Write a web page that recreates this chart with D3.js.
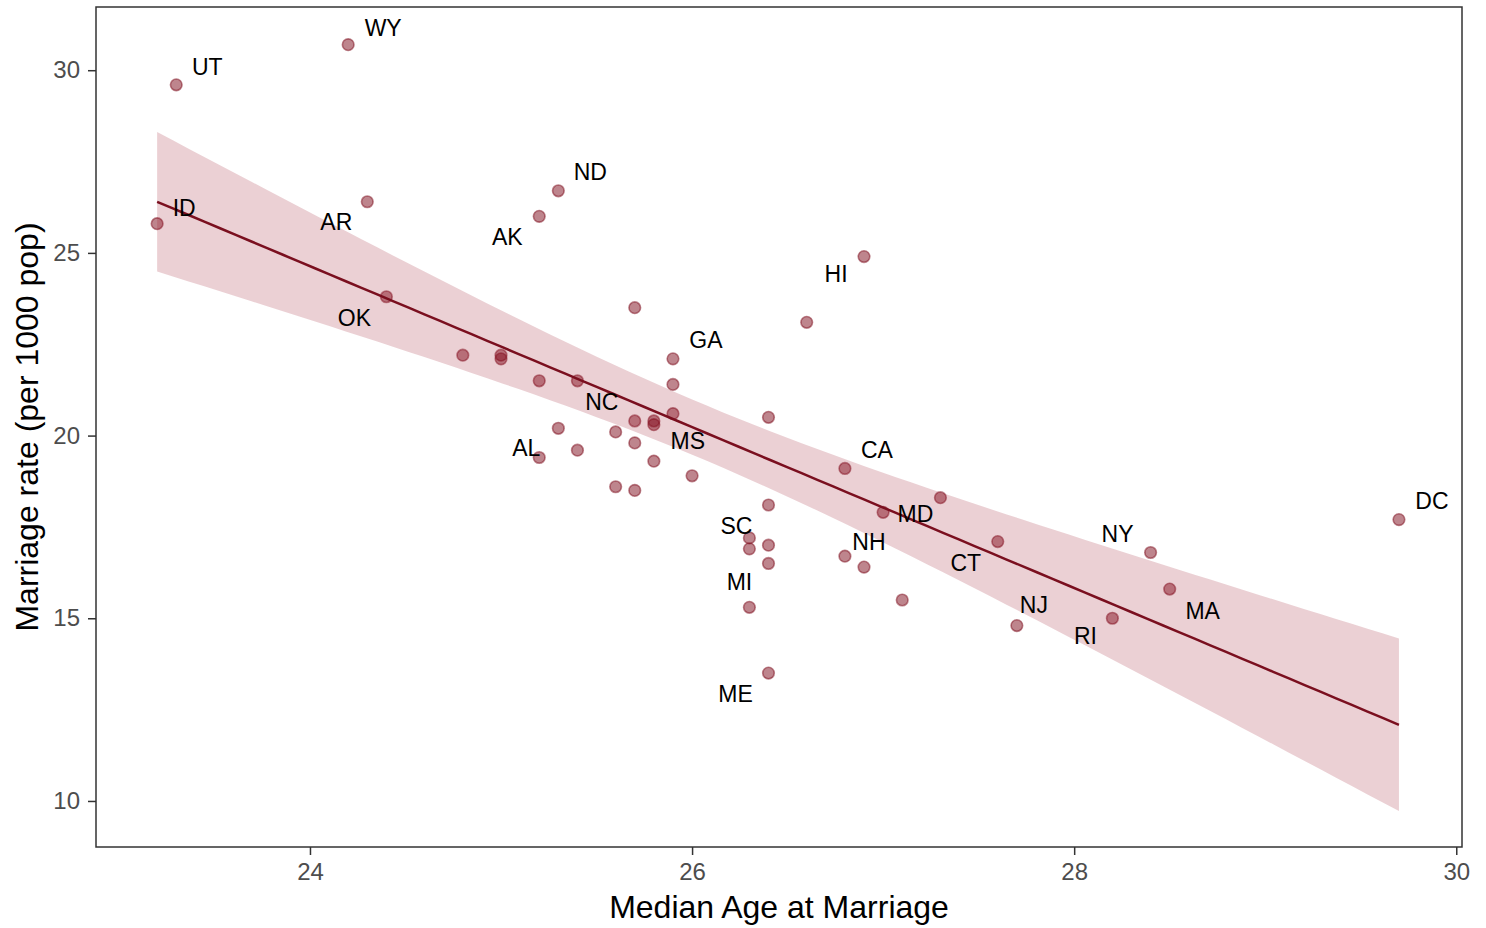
<!DOCTYPE html>
<html>
<head>
<meta charset="utf-8">
<script src="https://cdn.jsdelivr.net/npm/d3@7"></script>
<style>
  body { margin: 0; background: #fff; }
  text { font-family: "Liberation Sans", Arial, sans-serif; }
</style>
</head>
<body>
<div id="chart"></div>
<script>
// state codes, median age at marriage, marriage rate (per 1000)
const states = ['AL','AK','AZ','AR','CA','CO','CT','DE','DC','FL','GA','HI','ID','IL','IN','IA','KS','KY','LA','ME',
                'MD','MA','MI','MN','MS','MO','MT','NE','NH','NJ','NM','NY','NC','ND','OH','OK','OR','PA','RI','SC',
                'SD','TN','TX','UT','VT','VA','WA','WV','WI','WY'];
const medianAge = [25.3,25.2,25.8,24.3,26.8,25.7,27.6,26.6,29.7,26.4,25.9,26.9,23.2,27.0,25.7,25.4,25.0,24.8,25.9,26.4,
                   27.3,28.5,26.4,26.3,25.8,25.6,25.7,25.4,26.8,27.7,25.8,28.4,25.7,25.3,26.3,24.4,26.0,27.1,28.2,26.4,
                   25.6,25.2,25.2,23.3,26.9,26.4,25.9,25.0,26.3,24.2];
const marriage = [20.2,26.0,20.3,26.4,19.1,23.5,17.1,23.1,17.7,17.0,22.1,24.9,25.8,17.9,19.8,21.5,22.1,22.2,20.6,13.5,
                  18.3,15.8,16.5,15.3,19.3,18.6,18.5,19.6,16.7,14.8,20.4,16.8,20.4,26.7,16.9,23.8,18.9,15.5,15.0,18.1,
                  20.1,19.4,21.5,29.6,16.4,20.5,21.4,22.2,17.2,30.7];

const xTicks = [24, 26, 28, 30];
const yTicks = [10, 15, 20, 25, 30];

// which states get a text label, and where the label sits relative to its point (px)
const labelled = ['WY','UT','ND','ID','AR','AK','HI','OK','GA','NC','MS','AL','CA','SC','MD','NH','MI','CT','NJ','NY','MA','RI','ME','DC'];
const labelOffsets = [[35,-17],[31,-18],[32,-19],[27,-16],[-31,20],[-32,21],[-28,17],[-32,21],[33,-19],[-33,-19],[34,-20],[-32,20],
                      [32,-18],[-32,21],[-25,16],[24,-14],[-29,19],[-32,21],[17,-21],[-33,-19],[33,22],[-27,18],[-33,21],[33,-19]];

const W = 1486, H = 928;
const panel = {left: 96, right: 1462, top: 7, bottom: 847};

const svg = d3.select('#chart').append('svg').attr('width', W).attr('height', H);

const x = d3.scaleLinear().domain([22.88, 30.03]).range([panel.left, panel.right]);
const y = d3.scaleLinear().domain([8.74, 31.73]).range([panel.bottom, panel.top]);

const data = states.map((s, i) => ({s, a: medianAge[i], m: marriage[i]}));

// linear fit with 95% confidence band (like geom_smooth(method = 'lm'))
const n = data.length;
const xbar = d3.mean(medianAge), ybar = d3.mean(marriage);
const sxx = d3.sum(medianAge, v => (v - xbar) ** 2);
const sxy = d3.sum(data, d => (d.a - xbar) * (d.m - ybar));
const slope = sxy / sxx, icept = ybar - slope * xbar;
const sigma = Math.sqrt(d3.sum(data, d => (d.m - icept - slope * d.a) ** 2) / (n - 2));
const tq = 2.0106; // qt(0.975, 48)
const [amin, amax] = d3.extent(medianAge);
const fit = d3.range(80).map(i => {
  const a = amin + (amax - amin) * i / 79;
  const se = sigma * Math.sqrt(1 / n + (a - xbar) ** 2 / sxx);
  const f = icept + slope * a;
  return {a, f, lo: f - tq * se, hi: f + tq * se};
});

// points
svg.append('g').selectAll('circle').data(data).join('circle')
  .attr('cx', d => x(d.a)).attr('cy', d => y(d.m)).attr('r', 5.8)
  .attr('fill', 'rgba(125,12,28,0.5)')
  .attr('stroke', 'rgba(125,12,28,0.5)').attr('stroke-width', 1.6);

// band + line
svg.append('path').datum(fit)
  .attr('d', d3.area().x(d => x(d.a)).y0(d => y(d.lo)).y1(d => y(d.hi)))
  .attr('fill', 'rgba(155,20,40,0.2)');
svg.append('path').datum(fit)
  .attr('d', d3.line().x(d => x(d.a)).y(d => y(d.f)))
  .attr('fill', 'none').attr('stroke', '#7a0f1f').attr('stroke-width', 2.5);

// labels
svg.append('g').selectAll('text').data(labelled).join('text')
  .attr('x', (s, i) => { const d = data.find(e => e.s === s); return x(d.a) + labelOffsets[i][0]; })
  .attr('y', (s, i) => { const d = data.find(e => e.s === s); return y(d.m) + labelOffsets[i][1]; })
  .attr('text-anchor', 'middle').attr('dominant-baseline', 'central')
  .attr('font-size', 23).attr('fill', '#000')
  .text(s => s);

// panel border
svg.append('rect')
  .attr('x', panel.left).attr('y', panel.top)
  .attr('width', panel.right - panel.left).attr('height', panel.bottom - panel.top)
  .attr('fill', 'none').attr('stroke', '#333').attr('stroke-width', 1.5);

// axes
const xAxis = svg.append('g').attr('transform', `translate(0,${panel.bottom})`)
  .call(d3.axisBottom(x).tickValues(xTicks).tickSize(8).tickPadding(8).tickFormat(d3.format('d')));
const yAxis = svg.append('g').attr('transform', `translate(${panel.left},0)`)
  .call(d3.axisLeft(y).tickValues(yTicks).tickSize(8).tickPadding(8).tickFormat(d3.format('d')));
[xAxis, yAxis].forEach(g => {
  g.select('.domain').remove();
  g.selectAll('.tick line').attr('stroke', '#333').attr('stroke-width', 1.5);
  g.selectAll('.tick text').attr('fill', '#4d4d4d').attr('font-size', 24)
    .attr('font-family', '"Liberation Sans", Arial, sans-serif');
});

// titles
svg.append('text').attr('x', (panel.left + panel.right) / 2).attr('y', 918)
  .attr('text-anchor', 'middle').attr('font-size', 32).text('Median Age at Marriage');
svg.append('text').attr('transform', `translate(38,${(panel.top + panel.bottom) / 2}) rotate(-90)`)
  .attr('text-anchor', 'middle').attr('font-size', 32).text('Marriage rate (per 1000 pop)');
</script>
</body>
</html>
